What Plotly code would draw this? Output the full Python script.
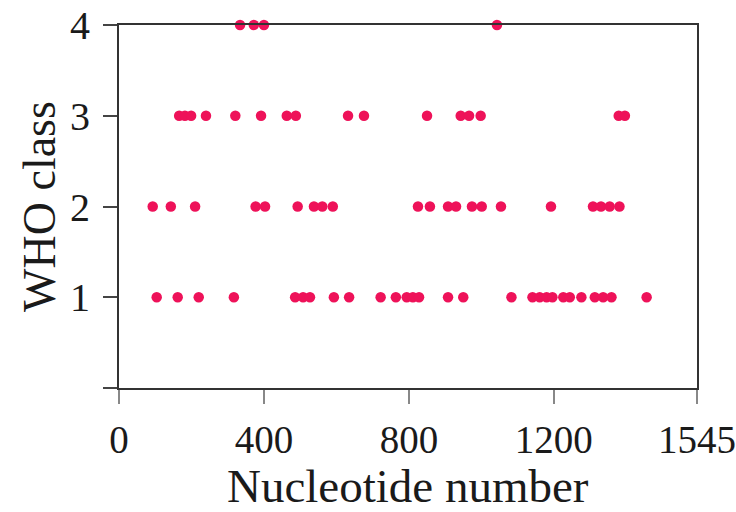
import plotly.graph_objects as go

# WHO class 4
x4 = [334, 372, 400, 1043]
# WHO class 3
x3 = [166, 182, 199, 240, 321, 392, 463, 488, 632, 676, 850, 943, 966, 998, 1379, 1396]
# WHO class 2
x2 = [93, 143, 210, 377, 403, 493, 538, 561, 590, 825, 858, 908, 930, 974, 1001, 1054,
      1192, 1308, 1330, 1354, 1381]
# WHO class 1
x1 = [104, 162, 220, 317, 486, 508, 527, 593, 635, 722, 764, 794, 811, 828, 908, 950,
      1083, 1141, 1161, 1180, 1196, 1226, 1244, 1276, 1313, 1336, 1359, 1456]

x_tickvals = [0, 400, 800, 1200, 1595]
x_ticktext = ["0", "400", "800", "1200", "1545"]
y_tickvals = [0, 1, 2, 3, 4]
y_ticktext = ["", "1", "2", "3", "4"]
x_title = "Nucleotide number"
y_title = "WHO class"

xs = x1 + x2 + x3 + x4
ys = [1] * len(x1) + [2] * len(x2) + [3] * len(x3) + [4] * len(x4)

fig = go.Figure()
fig.add_trace(go.Scatter(
    x=xs, y=ys, mode="markers",
    marker=dict(symbol="circle", size=10.5, color="#EE1259", line=dict(width=0)),
    cliponaxis=False, showlegend=False,
))

font_family = "Liberation Serif, Times New Roman, serif"
fig.update_layout(
    width=736, height=512,
    margin=dict(l=119, r=39, t=25, b=124, autoexpand=False),
    paper_bgcolor="white", plot_bgcolor="white",
    font=dict(family=font_family, color="#1a1a1a"),
    xaxis=dict(
        range=[0, 1595], tickvals=x_tickvals, ticktext=x_ticktext,
        showgrid=False, zeroline=False, automargin=False,
        showline=True, linecolor="#333", linewidth=2, mirror=True,
        ticks="outside", ticklen=14, tickwidth=1.5, tickcolor="#888",
        tickfont=dict(size=39, family=font_family, color="#1a1a1a"),
        ticklabelstandoff=2, ticklabeloverflow="allow",
    ),
    yaxis=dict(
        range=[0, 4], tickvals=y_tickvals, ticktext=y_ticktext,
        showgrid=False, zeroline=False, automargin=False,
        showline=True, linecolor="#333", linewidth=2, mirror=True,
        ticks="outside", ticklen=14, tickwidth=1.5, tickcolor="#444",
        tickfont=dict(size=40, family=font_family, color="#1a1a1a"),
        ticklabelstandoff=5,
        title=dict(text=y_title, font=dict(size=46, family=font_family, color="#1a1a1a"), standoff=0),
    ),
    annotations=[dict(
        text=x_title, xref="paper", yref="paper", x=0.5, y=-0.271,
        xanchor="center", yanchor="middle", showarrow=False,
        font=dict(size=47, family=font_family, color="#1a1a1a"),
    )],
)

fig.write_html("out.html")
